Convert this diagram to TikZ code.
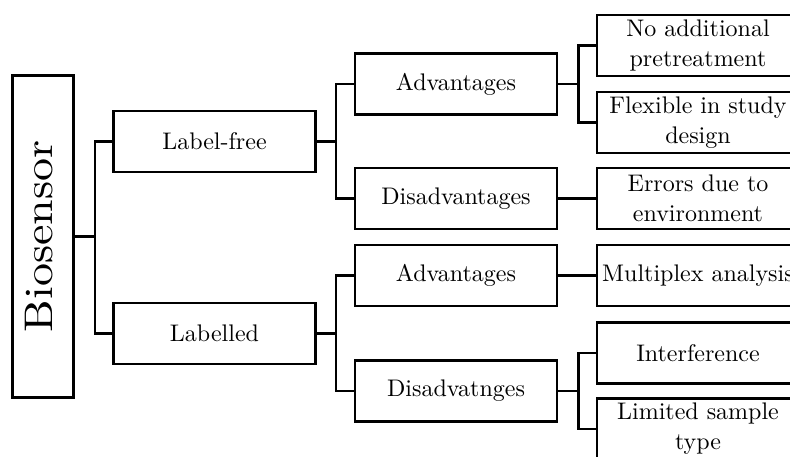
\documentclass[tikz,border=0pt]{standalone}
\usepackage{fontspec}
\setmainfont{lmroman10-regular}[Extension=.otf]
\begin{document}
\begin{tikzpicture}[x=1pt,y=-1pt,
  box/.style={draw=black,line width=2.6pt,rectangle,minimum width=202pt,minimum height=61pt,inner sep=0pt,align=center,font=\fontsize{24}{30}\selectfont},
  conn/.style={draw=black,line width=2.6pt}]
\useasboundingbox (0,0) rectangle (790,457);
\fill[white] (0,0) rectangle (790,457);
\clip (0,0) rectangle (790,457);
% root
\node[draw=black,line width=2.6pt,rectangle,rotate=90,minimum width=322pt,minimum height=61pt,inner sep=0pt,font=\fontsize{40}{48}\selectfont] (bio) at (43,236.5) {\raisebox{8pt}{\scalebox{1.15}[1]{Biosensor}}};
% level 1
\node[box] (lf) at (214.5,141.5) {Label-free};
\node[box] (lb) at (214.5,333.5) {Labelled};
% level 2
\node[box] (a1) at (456,84) {Advantages};
\node[box] (d1) at (456,198.5) {Disadvantages};
\node[box] (a2) at (456,275.5) {Advantages};
\node[box] (d2) at (456,391) {Disadvatnges};
% level 3
\node[box] (na) at (698,45.5) {No additional\\pretreatment};
\node[box] (fl) at (698,122.5) {Flexible in study\\design};
\node[box] (er) at (698,198.5) {Errors due to\\environment};
\node[box] (mu) at (698,275.5) {Multiplex analysis};
\node[box] (in) at (698,353) {Interference};
\node[box] (li) at (698,429) {Limited sample\\type};
% connectors
\draw[conn] (bio.south) -- ++(20,0) coordinate (j0);
\draw[conn] (j0) |- (lf.west);
\draw[conn] (j0) |- (lb.west);
\draw[conn] (lf.east) -- ++(19,0) coordinate (j1);
\draw[conn] (j1) |- (a1.west);
\draw[conn] (j1) |- (d1.west);
\draw[conn] (lb.east) -- ++(19,0) coordinate (j2);
\draw[conn] (j2) |- (a2.west);
\draw[conn] (j2) |- (d2.west);
\draw[conn] (a1.east) -- ++(20,0) coordinate (j3);
\draw[conn] (j3) |- (na.west);
\draw[conn] (j3) |- (fl.west);
\draw[conn] (d1.east) -- (er.west);
\draw[conn] (a2.east) -- (mu.west);
\draw[conn] (d2.east) -- ++(20,0) coordinate (j4);
\draw[conn] (j4) |- (in.west);
\draw[conn] (j4) |- (li.west);
\end{tikzpicture}
\end{document}
